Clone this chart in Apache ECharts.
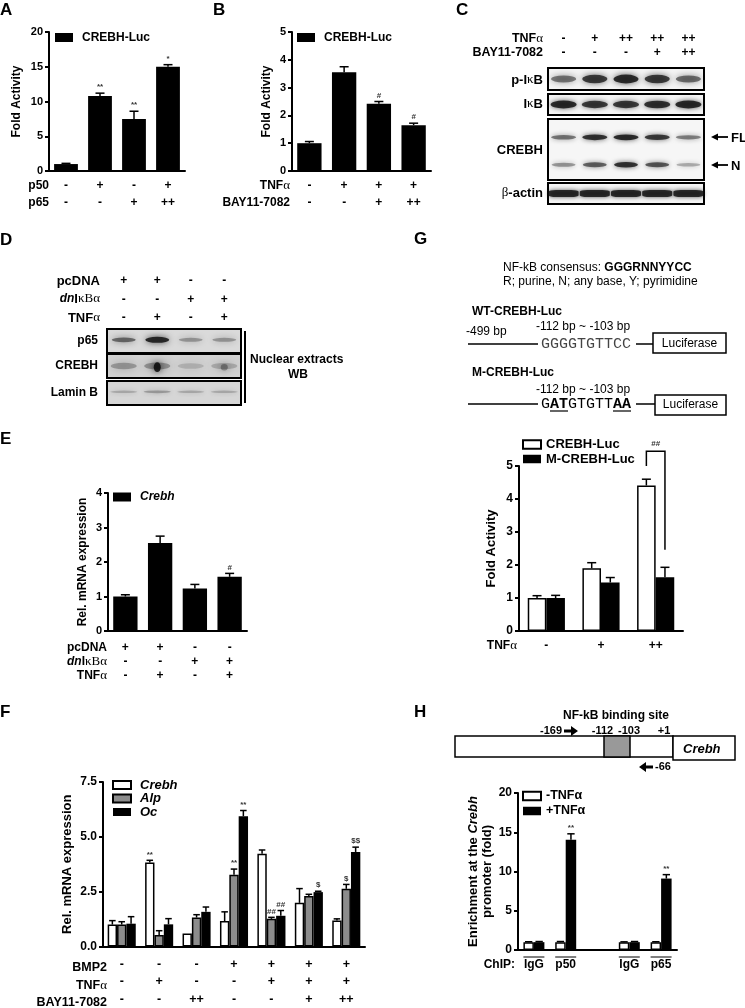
<!DOCTYPE html>
<html>
<head>
<meta charset="utf-8">
<script src="https://cdn.jsdelivr.net/npm/echarts@6/dist/echarts.min.js"></script>
<style>
  html, body { margin: 0; background: #fff; }
  #chart { width: 745px; height: 1008px; }
</style>
</head>
<body>
<div id="chart"></div>
<script>
// ---- panel A: p50 / p65 luciferase
const aP50 = ['-', '+', '-', '+']
const aP65 = ['-', '-', '+', '++']
const aValues = [1.0, 10.8, 7.5, 15.0]
const aErrors = [0.1, 0.4, 1.1, 0.3]
const aMarks = ['', '**', '**', '*']

// ---- panel B: TNFa / BAY11-7082 luciferase
const bTnf = ['-', '+', '+', '+']
const bBay = ['-', '-', '+', '++']
const bValues = [1.0, 3.55, 2.42, 1.65]
const bErrors = [0.06, 0.2, 0.08, 0.07]
const bMarks = ['', '', '#', '#']

// ---- panel C: western blot band intensities (0..1)
const cTnf = ['-', '+', '++', '++', '++']
const cBay = ['-', '-', '-', '+', '++']
const cPikb = [0.55, 0.85, 0.95, 0.85, 0.6]
const cIkb = [0.95, 0.85, 0.85, 0.9, 0.95]
const cCrebhFL = [0.55, 0.9, 0.95, 0.85, 0.5]
const cCrebhN = [0.4, 0.65, 0.9, 0.7, 0.3]
const cActin = [0.95, 0.95, 0.95, 0.95, 0.95]

// ---- panel D: nuclear extract blot
const dPcdna = ['+', '+', '-', '-']
const dDnikb = ['-', '-', '+', '+']
const dTnf = ['-', '+', '-', '+']
const dP65 = [0.6, 1.0, 0.35, 0.35]
const dCrebh = [0.4, 0.45, 0.22, 0.28]
const dCrebhSpot = [0, 0.95, 0, 0.35]
const dLamin = [0.3, 0.4, 0.3, 0.3]

// ---- panel E: Crebh mRNA
const ePcdna = ['+', '+', '-', '-']
const eDnikb = ['-', '-', '+', '+']
const eTnf = ['-', '+', '-', '+']
const eValues = [1.0, 2.55, 1.23, 1.57]
const eErrors = [0.05, 0.2, 0.12, 0.1]
const eMarks = ['', '', '', '#']

// ---- panel F: Crebh / Alp / Oc mRNA
const fBmp2 = ['-', '-', '-', '+', '+', '+', '+']
const fTnf = ['-', '+', '-', '-', '+', '+', '+']
const fBay = ['-', '-', '++', '-', '-', '+', '++']
const fCrebh = [1.0, 3.83, 0.59, 1.16, 4.23, 1.99, 1.19]
const fCrebhErr = [0.18, 0.1, 0, 0.42, 0.17, 0.65, 0.07]
const fAlp = [1.0, 0.52, 1.32, 3.27, 1.26, 2.3, 2.63]
const fAlpErr = [0.13, 0.2, 0.13, 0.26, 0.07, 0.08, 0.2]
const fOc = [1.04, 1.01, 1.58, 5.94, 1.4, 2.48, 4.31]
const fOcErr = [0.32, 0.26, 0.22, 0.26, 0.24, 0.04, 0.22]
const fCrebhMarks = ['', '**', '', '', '', '', '']
const fAlpMarks = ['', '', '', '**', '##', '', '$']
const fOcMarks = ['', '', '', '**', '##', '$', '$$']

// ---- panel G: WT vs mutant promoter
const gTnf = ['-', '+', '++']
const gWt = [1.0, 1.9, 4.41]
const gWtErr = [0.07, 0.17, 0.19]
const gMut = [1.0, 1.47, 1.63]
const gMutErr = [0.08, 0.15, 0.3]
const gBracket = [2, 5.0, 5.45, 2.46]

// ---- panel H: ChIP
const hChip = ['IgG', 'p50', '', 'IgG', 'p65']
const hMinus = [1.0, 1.0, null, 1.0, 1.0]
const hMinusErr = [0.05, 0.08, 0, 0.04, 0.05]
const hPlus = [1.0, 14.05, null, 1.0, 9.1]
const hPlusErr = [0.08, 0.75, 0, 0.08, 0.5]
const hPlusMarks = ['', '**', '', '', '**']

const FONT = '"Liberation Sans", Arial, Helvetica, sans-serif'
const SERIF = '"Liberation Serif", "Times New Roman", serif'
const MONO = '"Liberation Mono", "Courier New", monospace'

const grids = []
const xAxes = []
const yAxes = []
const series = []
const legends = []
const graphics = []

function barChart(c) {
  const gi = grids.length
  grids.push({ left: c.left, top: c.top, width: c.width, height: c.height })
  xAxes.push({
    gridIndex: gi,
    type: 'category',
    data: c.rows[0].map((_, i) => String(i)),
    axisLine: { lineStyle: { color: '#000', width: 2 } },
    axisTick: { show: false },
    axisLabel: {
      interval: 0,
      color: '#000',
      fontWeight: 'bold',
      fontSize: c.rowSize || 12,
      lineHeight: c.rowHeight || 14,
      margin: c.rowMargin,
      formatter: (v, i) => c.rows.map((r) => r[i]).join('\n'),
    },
  })
  yAxes.push({
    gridIndex: gi,
    type: 'value',
    min: 0,
    max: c.max,
    interval: c.step,
    name: c.yName,
    nameLocation: 'middle',
    nameGap: c.nameGap,
    nameTextStyle: {
      color: '#000',
      fontWeight: 'bold',
      fontSize: c.nameSize || 12,
      lineHeight: 14,
      rich: { it: { fontStyle: 'italic', fontWeight: 'bold', fontSize: c.nameSize || 12 } },
    },
    axisLine: { show: true, lineStyle: { color: '#000', width: 2 } },
    axisTick: { show: true, length: 4, lineStyle: { color: '#000', width: 2 } },
    axisLabel: { color: '#000', fontWeight: 'bold', fontSize: c.tickSize || 11, margin: 6, formatter: c.tickFmt },
    splitLine: { show: false },
  })
  return gi
}

function bars(gi, name, values, color, gap) {
  series.push({
    name,
    type: 'bar',
    xAxisIndex: gi,
    yAxisIndex: gi,
    data: values,
    barGap: 0,
    barCategoryGap: gap * 100 + '%',
    silent: true,
    itemStyle: { color, borderColor: '#000', borderWidth: color === '#000' ? 0 : 1.5 },
  })
}

function errors(gi, values, errs, marks, slot, slots, gap) {
  series.push({
    type: 'custom',
    xAxisIndex: gi,
    yAxisIndex: gi,
    clip: false,
    silent: true,
    z: 5,
    data: values.map((v, i) => [i, v == null ? NaN : v, errs[i] || 0]),
    renderItem(params, api) {
      const v = api.value(1)
      if (isNaN(v)) return
      const band = api.size([1, 0])[0]
      const barW = band * (1 - gap) / slots
      const base = api.coord([api.value(0), v])
      const x = base[0] + (slot - (slots - 1) / 2) * barW
      const err = api.value(2)
      const top = api.coord([api.value(0), v + err])[1]
      const cap = Math.min(barW * 0.35, 4.5)
      const children = []
      if (err > 0) {
        children.push({ type: 'line', shape: { x1: x, y1: base[1], x2: x, y2: top }, style: { stroke: '#000', lineWidth: 1.5 } })
        children.push({ type: 'line', shape: { x1: x - cap, y1: top, x2: x + cap, y2: top }, style: { stroke: '#000', lineWidth: 1.5 } })
      }
      const mark = marks ? marks[params.dataIndex] : ''
      if (mark) {
        children.push({
          type: 'text',
          x,
          y: top - 2,
          style: { text: mark, fill: '#333', font: `bold 8px ${FONT}`, align: 'center', verticalAlign: 'bottom' },
        })
      }
      return { type: 'group', children }
    },
  })
}

function legend(left, top, names, o = {}) {
  legends.push({
    left,
    top,
    padding: 0,
    orient: 'vertical',
    icon: 'rect',
    itemWidth: 18,
    itemHeight: o.itemHeight || 9,
    itemGap: o.gap || 0,
    selectedMode: false,
    data: names,
    formatter: (n) => n.split('|')[1],
    textStyle: {
      color: '#000',
      fontWeight: 'bold',
      fontStyle: o.italic ? 'italic' : 'normal',
      fontSize: o.size || 12,
      lineHeight: o.lineHeight || 12,
      padding: [0, 0, 0, o.textPad || 0],
    },
  })
}

function blot(c) {
  const gi = grids.length
  grids.push({
    left: c.left, top: c.top, width: c.width, height: c.height,
    show: true, borderColor: '#000', borderWidth: 2, backgroundColor: c.bg,
  })
  xAxes.push({
    gridIndex: gi,
    type: 'category',
    position: 'top',
    show: !!c.rows,
    data: c.lanes.map((_, i) => String(i)),
    axisLine: { show: false },
    axisTick: { show: false },
    splitLine: { show: false },
    axisLabel: {
      interval: 0,
      color: '#000',
      fontWeight: 'bold',
      fontSize: 12,
      lineHeight: c.rowHeight || 14,
      margin: c.rowMargin || 8,
      formatter: (v, i) => (c.rows || []).map((r) => r[i]).join('\n'),
    },
  })
  yAxes.push({ gridIndex: gi, type: 'value', min: 0, max: 1, show: false })
  return gi
}

// one scatter mark per lane; darkness and thickness follow the band level
function bands(gi, levels, y, w, h, blur, tone, shape = 'roundRect') {
  series.push({
    type: 'scatter',
    xAxisIndex: gi,
    yAxisIndex: gi,
    silent: true,
    symbol: shape,
    z: 2,
    data: levels.map((v, i) => [i, y, v]),
    symbolSize: (val) => [w, h * (0.45 + 0.55 * val[2])],
    itemStyle: {
      opacity: 1,
      color: (p) => `rgba(${tone},${p.value[2] * 0.9})`,
      shadowBlur: blur,
      shadowColor: `rgba(${tone},0.8)`,
    },
  })
}

function txt(x, y, text, o = {}) {
  graphics.push({
    type: 'text',
    x,
    y,
    silent: true,
    style: {
      text,
      font: o.font || `bold 12px ${FONT}`,
      fill: o.fill || '#000',
      align: o.align || 'left',
      verticalAlign: 'middle',
      rich: o.rich,
    },
  })
}

function line(x1, y1, x2, y2, w = 1.5) {
  graphics.push({ type: 'line', silent: true, shape: { x1, y1, x2, y2 }, style: { stroke: '#000', lineWidth: w } })
}

function box(x, y, width, height, fill = '#fff', w = 1.5) {
  graphics.push({ type: 'rect', silent: true, shape: { x, y, width, height }, style: { fill, stroke: '#000', lineWidth: w } })
}

function poly(points) {
  graphics.push({ type: 'polygon', silent: true, shape: { points }, style: { fill: '#000' } })
}

const greek = { g: { fontFamily: SERIF, fontSize: 13, fontWeight: 'normal' } }
const dnRich = {
  i: { fontStyle: 'italic', fontWeight: 'bold', fontSize: 12, fontFamily: FONT },
  g: { fontFamily: SERIF, fontSize: 13, fontWeight: 'normal' },
}

// ---------- A
const gA = barChart({
  left: 49, top: 32, width: 136, height: 139, max: 20, step: 5,
  yName: 'Fold Activity', nameGap: 25, rows: [aP50, aP65], rowHeight: 17, rowMargin: 6.5,
})
bars(gA, 'A|CREBH-Luc', aValues, '#000', 0.3)
errors(gA, aValues, aErrors, aMarks, 0, 1, 0.3)
legend(55, 31.5, ['A|CREBH-Luc'], { textPad: 4 })
txt(49, 186, 'p50', { align: 'right' })
txt(49, 203, 'p65', { align: 'right' })

// ---------- B
const gB = barChart({
  left: 292, top: 32, width: 139, height: 139, max: 5, step: 1,
  yName: 'Fold Activity', nameGap: 18, rows: [bTnf, bBay], rowHeight: 17, rowMargin: 6.5,
})
bars(gB, 'B|CREBH-Luc', bValues, '#000', 0.3)
errors(gB, bValues, bErrors, bMarks, 0, 1, 0.3)
legend(297, 31.5, ['B|CREBH-Luc'], { textPad: 4 })
txt(290, 186, 'TNF{g|α}', { align: 'right', rich: greek })
txt(290, 203, 'BAY11-7082', { align: 'right' })

// ---------- E
const gE = barChart({
  left: 108, top: 493, width: 139, height: 138, max: 4, step: 1,
  yName: 'Rel. mRNA expression', nameGap: 18, rows: [ePcdna, eDnikb, eTnf], rowHeight: 14, rowMargin: 10,
})
bars(gE, 'E|Crebh', eValues, '#000', 0.3)
errors(gE, eValues, eErrors, eMarks, 0, 1, 0.3)
legend(113, 491, ['E|Crebh'], { italic: true, textPad: 4 })
txt(107, 648, 'pcDNA', { align: 'right' })
txt(107, 662, '{i|dn}I{g|κBα}', { align: 'right', rich: dnRich })
txt(107, 676, 'TNF{g|α}', { align: 'right', rich: greek })

// ---------- F
const gF = barChart({
  left: 103, top: 782, width: 262, height: 168, max: 7.5, step: 2.5,
  yName: 'Rel. mRNA expression', nameGap: 28.5, nameSize: 13, tickSize: 12,
  tickFmt: (v) => v.toFixed(1), rows: [fBmp2, fTnf, fBay], rowHeight: 17.5, rowMargin: 9, rowSize: 12.5,
})
bars(gF, 'F|Crebh', fCrebh, '#fff', 0.25)
bars(gF, 'F|Alp', fAlp, '#8c8c8c', 0.25)
bars(gF, 'F|Oc', fOc, '#000', 0.25)
errors(gF, fCrebh, fCrebhErr, fCrebhMarks, 0, 3, 0.25)
errors(gF, fAlp, fAlpErr, fAlpMarks, 1, 3, 0.25)
errors(gF, fOc, fOcErr, fOcMarks, 2, 3, 0.25)
legend(112, 778.5, ['F|Crebh', 'F|Alp', 'F|Oc'], { italic: true, size: 13, lineHeight: 11, gap: 0.5, itemHeight: 8, textPad: 4 })
txt(107, 968, 'BMP2', { align: 'right', font: `bold 12.5px ${FONT}` })
txt(107, 986, 'TNF{g|α}', { align: 'right', font: `bold 12.5px ${FONT}`, rich: greek })
txt(107, 1003, 'BAY11-7082', { align: 'right', font: `bold 12.5px ${FONT}` })

// ---------- G chart
const gG = barChart({
  left: 519, top: 466, width: 164, height: 165, max: 5, step: 1,
  yName: 'Fold Activity', nameGap: 20.5, nameSize: 13, tickSize: 12, rows: [gTnf], rowMargin: 8,
})
bars(gG, 'G|CREBH-Luc', gWt, '#fff', 0.32)
bars(gG, 'G|M-CREBH-Luc', gMut, '#000', 0.32)
errors(gG, gWt, gWtErr, null, 0, 2, 0.32)
errors(gG, gMut, gMutErr, null, 1, 2, 0.32)
series.push({
  type: 'custom',
  xAxisIndex: gG,
  yAxisIndex: gG,
  clip: false,
  silent: true,
  z: 5,
  data: [gBracket],
  renderItem(params, api) {
    const band = api.size([1, 0])[0]
    const barW = band * (1 - 0.32) / 2
    const c = api.coord([api.value(0), api.value(2)])
    const yl = api.coord([api.value(0), api.value(1)])[1]
    const yr = api.coord([api.value(0), api.value(3)])[1]
    const lx = c[0] - barW / 2
    const rx = c[0] + barW / 2
    return {
      type: 'group',
      children: [
        { type: 'polyline', shape: { points: [[lx, yl], [lx, c[1]], [rx, c[1]], [rx, yr]] }, style: { stroke: '#000', lineWidth: 1.5, fill: null } },
        { type: 'text', x: c[0], y: c[1] - 3, style: { text: '##', fill: '#333', font: `bold 8px ${FONT}`, align: 'center', verticalAlign: 'bottom' } },
      ],
    }
  },
})
legend(522, 438, ['G|CREBH-Luc', 'G|M-CREBH-Luc'], { size: 13, lineHeight: 13, gap: 1.5, itemHeight: 8.5 })
txt(517, 646, 'TNF{g|α}', { align: 'right', rich: greek })

// ---------- H chart
const gH = barChart({
  left: 518, top: 793, width: 159, height: 157, max: 20, step: 5,
  yName: 'Enrichment at the {it|Crebh}\npromoter (fold)', nameGap: 14.5, nameSize: 13, tickSize: 12,
  rows: [hChip], rowMargin: 8,
})
bars(gH, 'H|-TNFα', hMinus, '#fff', 0.34)
bars(gH, 'H|+TNFα', hPlus, '#000', 0.34)
errors(gH, hMinus, hMinusErr, null, 0, 2, 0.34)
errors(gH, hPlus, hPlusErr, hPlusMarks, 1, 2, 0.34)
series.push({
  type: 'custom',
  xAxisIndex: gH,
  yAxisIndex: gH,
  clip: false,
  silent: true,
  data: hChip.map((t, i) => [i, 0, t ? 1 : 0]),
  renderItem(params, api) {
    if (!api.value(2)) return
    const band = api.size([1, 0])[0]
    const half = band * (1 - 0.34) / 2
    const p = api.coord([api.value(0), 0])
    return { type: 'line', shape: { x1: p[0] - half, y1: p[1] + 7, x2: p[0] + half, y2: p[1] + 7 }, style: { stroke: '#000', lineWidth: 1 } }
  },
})
legend(522, 789.5, ['H|-TNFα', 'H|+TNFα'], { size: 12.5, lineHeight: 13, gap: 2, itemHeight: 8.5 })
txt(515, 965, 'ChIP:', { align: 'right' })

// ---------- C blot
const lanesC = cTnf
const cb1 = blot({ left: 548, top: 68, width: 156, height: 22, bg: '#f4f4f4', lanes: lanesC, rows: [cTnf, cBay], rowHeight: 14, rowMargin: 8 })
const cb2 = blot({ left: 548, top: 94, width: 156, height: 21, bg: '#f4f4f4', lanes: lanesC })
const cb3 = blot({ left: 548, top: 119, width: 156, height: 61, bg: '#f6f6f6', lanes: lanesC })
const cb4 = blot({ left: 548, top: 183, width: 156, height: 21, bg: '#f4f4f4', lanes: lanesC })
bands(cb1, cPikb, 0.5, 25, 9, 6, '20,20,20', 'circle')
bands(cb2, cIkb, 0.5, 26, 8, 5, '20,20,20', 'circle')
bands(cb3, cCrebhFL, 0.7, 25, 6, 5, '20,20,20', 'circle')
bands(cb3, cCrebhN, 0.25, 24, 6, 5, '20,20,20', 'circle')
bands(cb4, cActin, 0.5, 30, 7, 4, '20,20,20')
txt(543, 39, 'TNF{g|α}', { align: 'right', font: `bold 12.5px ${FONT}`, rich: greek })
txt(543, 53, 'BAY11-7082', { align: 'right', font: `bold 12.5px ${FONT}` })
txt(543, 80, 'p-I{g|κ}B', { align: 'right', font: `bold 13px ${FONT}`, rich: greek })
txt(543, 104, 'I{g|κ}B', { align: 'right', font: `bold 13px ${FONT}`, rich: greek })
txt(543, 150, 'CREBH', { align: 'right', font: `bold 13px ${FONT}` })
txt(543, 193, '{g|β}-actin', { align: 'right', font: `bold 13px ${FONT}`, rich: greek })
line(716, 137, 728, 137, 1.8)
poly([[711, 137], [718, 133.5], [718, 140.5]])
txt(731, 138, 'FL', { font: `bold 13px ${FONT}` })
line(716, 165, 728, 165, 1.8)
poly([[711, 165], [718, 161.5], [718, 168.5]])
txt(731, 166, 'N', { font: `bold 13px ${FONT}` })

// ---------- D blot
const lanesD = dPcdna
const db1 = blot({ left: 107, top: 329, width: 134, height: 24, bg: '#dadada', lanes: lanesD, rows: [dPcdna, dDnikb, dTnf], rowHeight: 18.5, rowMargin: 2 })
const db2 = blot({ left: 107, top: 354, width: 134, height: 24, bg: '#d2d2d2', lanes: lanesD })
const db3 = blot({ left: 107, top: 381, width: 134, height: 24, bg: '#d6d6d6', lanes: lanesD })
bands(db1, dP65, 0.55, 24, 6, 6, '25,25,25', 'circle')
bands(db2, dCrebh, 0.5, 26, 10, 8, '60,60,60', 'circle')
bands(db2, dCrebhSpot, 0.45, 7, 10, 6, '10,10,10', 'circle')
bands(db3, dLamin, 0.55, 27, 4, 4, '70,70,70', 'circle')
txt(100, 281, 'pcDNA', { align: 'right', font: `bold 13px ${FONT}` })
txt(100, 299, '{i|dn}I{g|κBα}', { align: 'right', font: `bold 13px ${FONT}`, rich: dnRich })
txt(100, 318, 'TNF{g|α}', { align: 'right', font: `bold 13px ${FONT}`, rich: greek })
txt(98, 341, 'p65', { align: 'right' })
txt(98, 366, 'CREBH', { align: 'right' })
txt(98, 393, 'Lamin B', { align: 'right' })
line(245, 331, 245, 403, 2)
txt(250, 360, 'Nuclear extracts')
txt(298, 375, 'WB', { align: 'center' })

// ---------- G schematic
const regular = `12px ${FONT}`
txt(503, 268, 'NF-kB consensus: {b|GGGRNNYYCC}', { font: regular, rich: { b: { fontWeight: 'bold', fontSize: 12, fontFamily: FONT } } })
txt(503, 282, 'R; purine, N; any base, Y; pyrimidine', { font: regular })
txt(472, 312, 'WT-CREBH-Luc')
txt(466, 332, '-499 bp', { font: regular })
txt(583, 327, '-112 bp ~ -103 bp', { font: regular, align: 'center' })
line(468, 344, 538, 344)
txt(541, 344, 'GGGGTGTTCC', { font: `15px ${MONO}`, fill: '#444' })
line(636, 344, 653, 344)
box(653, 333, 73, 20)
txt(689.5, 343.5, 'Luciferase', { font: regular, align: 'center' })
txt(472, 373, 'M-CREBH-Luc')
txt(583, 390, '-112 bp ~ -103 bp', { font: regular, align: 'center' })
line(468, 404, 538, 404)
txt(541, 404, '{n|G}{b|AT}{n|GTGTT}{b|AA}', {
  font: `15px ${MONO}`,
  rich: {
    n: { fontFamily: MONO, fontSize: 15, color: '#444' },
    b: { fontFamily: MONO, fontSize: 15, fontWeight: 'bold', color: '#000' },
  },
})
line(550, 411, 568, 411, 1.2)
line(613, 411, 631, 411, 1.2)
line(636, 404, 655, 404)
box(655, 395, 71, 20)
txt(690.5, 405, 'Luciferase', { font: regular, align: 'center' })

// ---------- H schematic
const small = `bold 11px ${FONT}`
box(455, 736, 218, 21)
box(604, 736, 26, 21, '#999')
box(673, 736, 62, 24)
txt(683, 749, 'Crebh', { font: `italic bold 13px ${FONT}` })
txt(616, 716, 'NF-kB binding site', { align: 'center' })
txt(562, 731, '-169', { font: small, align: 'right' })
poly([[564, 729.5], [571, 729.5], [571, 726], [578, 731], [571, 736], [571, 732.5], [564, 732.5]])
txt(602.5, 731, '-112', { font: small, align: 'center' })
txt(629, 731, '-103', { font: small, align: 'center' })
txt(664, 731, '+1', { font: small, align: 'center' })
poly([[653, 765.5], [646, 765.5], [646, 762], [639, 767], [646, 772], [646, 768.5], [653, 768.5]])
txt(655, 767, '-66', { font: small })

// ---------- panel letters
const letter = `bold 17px ${FONT}`
txt(0, 10, 'A', { font: letter })
txt(213, 10, 'B', { font: letter })
txt(456, 10, 'C', { font: letter })
txt(0, 240, 'D', { font: letter })
txt(0, 439, 'E', { font: letter })
txt(0, 712, 'F', { font: letter })
txt(414, 239, 'G', { font: letter })
txt(414, 712, 'H', { font: letter })

const chart = echarts.init(document.getElementById('chart'))
chart.setOption({
  animation: false,
  backgroundColor: '#fff',
  textStyle: { fontFamily: FONT },
  grid: grids,
  xAxis: xAxes,
  yAxis: yAxes,
  legend: legends,
  series,
  graphic: graphics,
})
</script>
</body>
</html>
